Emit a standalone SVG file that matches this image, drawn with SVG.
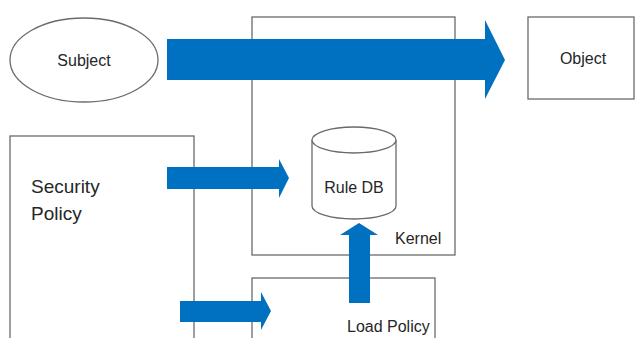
<svg xmlns="http://www.w3.org/2000/svg" width="635" height="338" viewBox="0 0 635 338">
<style>
.box{fill:#fff;stroke:#6a6a6a;stroke-width:1.3}
.t{font-family:"Liberation Sans",Arial,sans-serif;fill:#262626;font-size:16px}
.big{font-size:19px}
.arr{fill:#0070C0}
</style>
<rect width="635" height="338" fill="#fff"/>
<g id="kernel">
<rect class="box" x="252" y="17" width="203" height="238"/>
<text class="t" x="395" y="244">Kernel</text>
</g>
<g id="subject">
<ellipse class="box" cx="84" cy="60" rx="74" ry="42"/>
<text class="t" x="84" y="66" text-anchor="middle">Subject</text>
</g>
<g id="object">
<rect class="box" x="528" y="17" width="106" height="82"/>
<text class="t" x="583" y="64" text-anchor="middle">Object</text>
</g>
<g id="security-policy">
<rect class="box" x="10" y="136" width="184" height="210"/>
<text class="t big" x="31" y="193">Security</text>
<text class="t big" x="31" y="220">Policy</text>
</g>
<g id="load-policy">
<rect class="box" x="252" y="278" width="183" height="70"/>
<text class="t" x="347" y="332">Load Policy</text>
</g>
<g id="rule-db">
<path class="box" d="M312,140 V206 A42,13 0 0 0 396,206 V140"/>
<ellipse class="box" cx="354" cy="140" rx="42" ry="13"/>
<text class="t" x="354" y="193" text-anchor="middle" font-size="15.5">Rule DB</text>
</g>
<g id="connectors">
<polygon class="arr" points="167,39 485,39 485,20 505,60 485,99 485,80 167,80"/>
<polygon class="arr" points="167,167 279,167 279,159 289,178 279,198 279,189 167,189"/>
<polygon class="arr" points="180,301 261,301 261,292 271,311 261,330 261,322 180,322"/>
<polygon class="arr" points="349,303 349,235 340,235 359,223 378,235 370,235 370,303"/>
</g>
</svg>
